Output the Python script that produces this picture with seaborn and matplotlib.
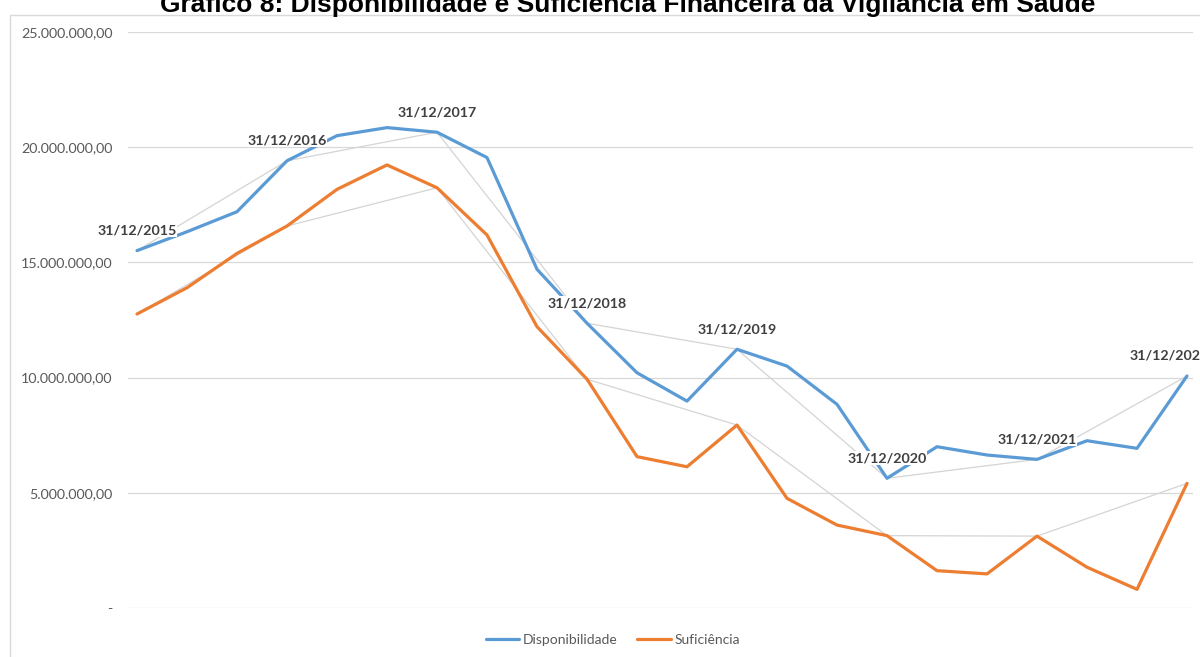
import numpy as np
import pandas as pd
import seaborn as sns
import matplotlib
matplotlib.use("Agg")
import matplotlib.pyplot as plt
from matplotlib.patches import Rectangle
from matplotlib.ticker import FuncFormatter
from matplotlib.lines import Line2D

# ---- data ----
disponibilidade = [15.51, 16.33, 17.20, 19.41, 20.50, 20.85, 20.65, 19.55, 14.70, 12.36,
                   10.21, 8.98, 11.23, 10.50, 8.84, 5.63, 7.00, 6.64, 6.45, 7.26, 6.93, 10.07]
suficiencia = [12.76, 13.90, 15.39, 16.58, 18.17, 19.23, 18.24, 16.19, 12.21, 9.93,
               6.57, 6.13, 7.94, 4.76, 3.60, 3.14, 1.62, 1.48, 3.12, 1.77, 0.81, 5.41]
year_labels = ["31/12/2015", "31/12/2016", "31/12/2017", "31/12/2018",
               "31/12/2019", "31/12/2020", "31/12/2021", "31/12/2022"]
year_index = [0, 3, 6, 9, 12, 15, 18, 21]
series_names = ["Disponibilidade", "Suficiência"]
title = "Gráfico 8: Disponibilidade e Suficiência Financeira da Vigilância em Saúde"

n = len(disponibilidade)
df = pd.DataFrame({
    "x": list(range(n)) * 2,
    "valor": [v * 1e6 for v in disponibilidade] + [v * 1e6 for v in suficiencia],
    "serie": [series_names[0]] * n + [series_names[1]] * n,
})

sns.set_theme(style="white")
plt.rcParams["font.family"] = ["Lato", "DejaVu Sans"]

colors = {"Disponibilidade": "#5B9BD5", "Suficiência": "#ED7D31"}

fig = plt.figure(figsize=(12, 6.57), dpi=100)
ax = fig.add_axes([128 / 1200, (657 - 608) / 657, (1193 - 128) / 1200, (608 - 32) / 657])

# thin gray lines linking the year-end points
for vals in (disponibilidade, suficiencia):
    ax.plot(year_index, [vals[i] * 1e6 for i in year_index], color="#d4d4d4", lw=0.9, zorder=1)

sns.lineplot(data=df, x="x", y="valor", hue="serie", palette=colors, ax=ax,
             linewidth=2.3, legend=False, zorder=3)

ax.set_xlim(-0.18, 21.12)
ax.set_ylim(0, 25e6)
ax.set_yticks(np.arange(0, 25e6 + 1, 5e6))
ax.set_xticks([])
ax.set_xlabel("")
ax.set_ylabel("")

def fmt(v, pos):
    if v == 0:
        return "-"
    s = f"{v:,.2f}"
    return s.replace(",", "X").replace(".", ",").replace("X", ".")

ax.yaxis.set_major_formatter(FuncFormatter(fmt))
ax.tick_params(axis="y", length=0, pad=11, labelsize=10.3, labelcolor="#595959")
ax.grid(axis="y", color="#d9d9d9", lw=0.9)
ax.set_axisbelow(True)
for sp in ax.spines.values():
    sp.set_visible(False)

# year-end labels
for k, (lab, i) in enumerate(zip(year_labels, year_index)):
    dx = -13 if k == len(year_labels) - 1 else 0
    ax.annotate(lab, (i, disponibilidade[i] * 1e6), xytext=(dx, 14.5), textcoords="offset points",
                ha="center", va="center", fontsize=10.3, fontweight="bold", color="#404040",
                annotation_clip=False, zorder=5,
                bbox=dict(boxstyle="square,pad=0.05", fc="white", ec="none"))

# legend
handles = [Line2D([0], [0], color=colors[s], lw=2.3) for s in series_names]
fig.legend(handles, series_names, loc="center", bbox_to_anchor=(613 / 1200, 1 - 640 / 657),
           ncol=2, frameon=False, fontsize=10, labelcolor="#595959",
           handlelength=2.4, handletextpad=0.3, columnspacing=1.4)

# chart border
fig.patches.append(Rectangle((10 / 1200, -0.2), 2, (657 - 15) / 657 + 0.2,
                             transform=fig.transFigure, fill=False, ec="#d9d9d9", lw=1.0))

# title (partly cut at top)
fig.text(628 / 1200, 1 - 12 / 657, title, ha="center", va="baseline",
         fontsize=19, fontweight="bold", family=["Liberation Sans", "DejaVu Sans"], color="black")

fig.savefig("out.png", dpi=100)
